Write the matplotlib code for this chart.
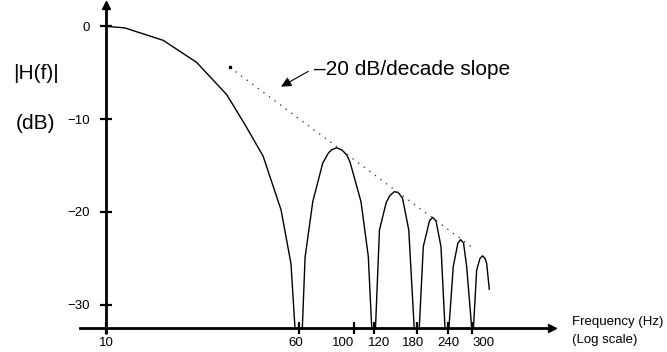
import matplotlib.pyplot as plt
import matplotlib.transforms as mtransforms
from matplotlib.ticker import NullLocator

plt.rcParams['font.family'] = ['Liberation Sans', 'DejaVu Sans']

# |H(f)| (Hz, dB); nulls sit below the axis and get clipped
freq = [10, 11.9, 17.0, 23.2, 30.7, 36.7, 43.0, 50.8, 55.7, 57.8, 60,
        61.9, 63.5, 68.2, 74.8, 78.8, 81.3, 85.1, 89.2, 93.4, 96.3, 106.7, 114.2, 117.9, 120,
        122.1, 126.7, 134.9, 139.7, 145.7, 151.2, 156.9, 166.3, 174.9, 180,
        183.4, 190.3, 201.6, 207.6, 214.2, 224.3, 232.8, 240,
        241.5, 251.4, 262.5, 269.3, 276.5, 284.7, 298.3, 300,
        303.3, 312.4, 322.1, 330.3, 337.6, 342.8, 351.3]
gain = [0, -0.17, -1.51, -3.89, -7.38, -10.8, -14.0, -19.8, -25.6, -32.5, -36,
        -32.5, -24.9, -18.9, -14.75, -13.67, -13.31, -13.1, -13.31, -13.85, -14.6, -18.9, -24.8, -32.5, -36,
        -32.5, -21.95, -18.98, -18.23, -17.82, -17.96, -18.53, -21.95, -32.5, -36,
        -32.5, -23.75, -20.98, -20.6, -20.98, -23.75, -32.5, -36,
        -32.5, -25.9, -23.36, -23.0, -23.36, -25.9, -32.5, -36,
        -32.5, -26.3, -25.03, -24.75, -25.03, -25.55, -28.35]

# -20 dB/decade reference line
slope_freq = [31.6, 302.9]
slope_gain = [-4.43, -23.93]

xticks = [10, 60, 100, 120, 180, 240, 300]
xtick_labels = ['10', '60', '100', '120', '180', '240', '300']
xlabel_shift = [0, -3, -11, 5, -4, 0, 11]   # px, labels are hand-placed in the original
yticks = [0, -10, -20, -30]
ytick_labels = ['0', '\u221210', '\u221220', '\u221230']

fig = plt.figure(figsize=(6.67, 3.52), dpi=100)
ax = fig.add_axes([0.1199, 0.069, 0.7072, 0.9168])
ax.set_xscale('log')
ax.set_xlim(7.85, 627)
ax.set_ylim(-32.5, 2.3)

ax.plot(freq, gain, color='black', lw=1.0)
ax.plot(slope_freq, slope_gain, color='#444444', lw=1.0, ls=(0, (1, 4)))
ax.plot(slope_freq[0], slope_gain[0], marker='s', ms=2, color='black')

# axes drawn as arrows through f = 10 Hz and the bottom edge
for s in ['top', 'right']:
    ax.spines[s].set_visible(False)
ax.spines['left'].set_position(('data', 10))
ax.spines['left'].set_linewidth(2)
ax.spines['bottom'].set_linewidth(2)
ax.plot(1, 0, '>k', ms=6, transform=ax.transAxes, clip_on=False)
ax.plot(10, 1, '^k', ms=6, transform=ax.get_xaxis_transform(), clip_on=False)
ax.plot([10, 10], [0, -0.02], color='black', lw=2, solid_capstyle='butt',
        transform=ax.get_xaxis_transform(), clip_on=False)

ax.set_xticks(xticks)
ax.set_xticklabels(xtick_labels)
ax.xaxis.set_minor_locator(NullLocator())
ax.set_yticks(yticks)
ax.set_yticklabels(ytick_labels)
ax.tick_params(axis='both', direction='inout', length=9, width=1.6,
               labelsize=9.5, color='black')
ax.tick_params(axis='x', pad=2.5)
ax.tick_params(axis='y', pad=7)
for lab, dx in zip(ax.get_xticklabels(), xlabel_shift):
    lab.set_transform(lab.get_transform() +
                      mtransforms.ScaledTranslation(dx / 100, 0, fig.dpi_scale_trans))

ax.annotate('', xy=(50.8, -6.5), xytext=(65.4, -4.86),
            arrowprops=dict(arrowstyle='-|>,head_length=0.6,head_width=0.3',
                            color='black', lw=0.8, mutation_scale=10,
                            shrinkA=0, shrinkB=0))
ax.text(69.0, -5.2, '\u201320 dB/decade slope', fontsize=15, va='baseline', ha='left')

fig.text(0.0195, 0.79, '|H(f)|', fontsize=15, va='center', ha='left')
fig.text(0.024, 0.648, '(dB)', fontsize=15, va='center', ha='left')
fig.text(0.8576, 0.0852, 'Frequency (Hz)', fontsize=9.5, va='center', ha='left')
fig.text(0.8576, 0.034, '(Log scale)', fontsize=9.5, va='center', ha='left')

fig.savefig('out.png', dpi=100)
